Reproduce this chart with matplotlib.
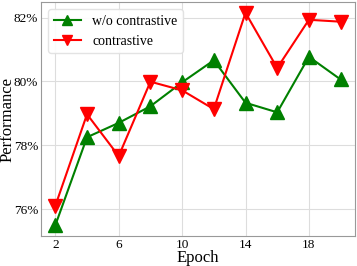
import matplotlib
matplotlib.use("Agg")
import matplotlib.pyplot as plt
from matplotlib.ticker import FuncFormatter

epochs = [2, 4, 6, 8, 10, 12, 14, 16, 18, 20]
wo_contrastive = [75.49, 78.25, 78.70, 79.22, 79.97, 80.66, 79.33, 79.03, 80.77, 80.06]
contrastive = [76.10, 78.97, 77.66, 79.99, 79.72, 79.13, 82.15, 80.42, 81.93, 81.87]
xticks = [2, 6, 10, 14, 18]
yticks = [76, 78, 80, 82]

plt.rcParams['font.family'] = ['Liberation Serif', 'DejaVu Serif']
fig, ax = plt.subplots(figsize=(3.57, 2.66), dpi=100)
ax.plot(epochs, wo_contrastive, color='green', marker='^', markersize=9.5, linewidth=1.5,
        label='w/o contrastive')
ax.plot(epochs, contrastive, color='red', marker='v', markersize=9.5, linewidth=1.5,
        label='contrastive')
ax.set_xticks(xticks)
ax.set_yticks(yticks)
ax.yaxis.set_major_formatter(FuncFormatter(lambda v, p: f"{v:.0f}%"))
ax.grid(True, color='#dddddd', linewidth=0.8)
ax.set_axisbelow(True)
for s in ax.spines.values():
    s.set_color('#999999')
ax.tick_params(axis='both', labelsize=9.5, length=0)
ax.tick_params(axis='y', pad=2)
ax.tick_params(axis='x', pad=2)
ax.set_xlabel('Epoch', fontsize=12, labelpad=-0.5)
ax.set_ylabel('Performance', fontsize=12, labelpad=-1)
leg = ax.legend(loc='upper left', fontsize=10, framealpha=0.9, edgecolor='#e0e0e0',
                markerscale=0.7)
fig.subplots_adjust(left=0.115, right=0.994, top=0.992, bottom=0.113)
fig.savefig('out.png', dpi=100)
